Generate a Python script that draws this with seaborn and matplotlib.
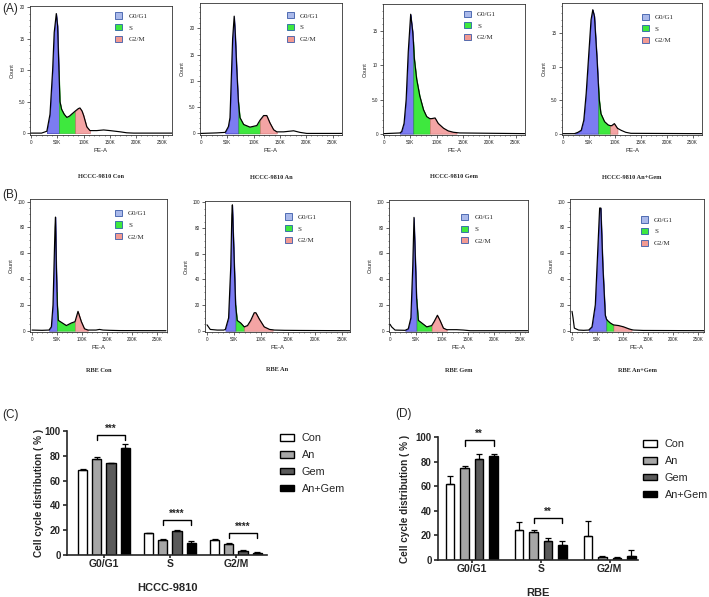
import numpy as np
import pandas as pd
import matplotlib
matplotlib.use("Agg")
import matplotlib.pyplot as plt
from matplotlib.patches import Patch
from matplotlib.ticker import MultipleLocator, FixedLocator, FuncFormatter
import seaborn as sns

# ---------------- bar chart data ----------------
phases = ["G0/G1", "S", "G2/M"]
groups = ["Con", "An", "Gem", "An+Gem"]

hccc_con = [68.4, 17.4, 12.2]
hccc_an = [77.5, 11.8, 8.6]
hccc_gem = [74.0, 19.6, 3.4]
hccc_angem = [86.6, 9.4, 1.8]
hccc_con_sd = [0.7, 0.4, 0.5]
hccc_an_sd = [1.3, 1.0, 1.0]
hccc_gem_sd = [0.5, 0.7, 0.4]
hccc_angem_sd = [2.8, 1.8, 0.7]

rbe_con = [61.6, 24.6, 19.2]
rbe_an = [74.4, 22.6, 2.4]
rbe_gem = [82.5, 15.1, 1.3]
rbe_angem = [84.4, 11.8, 3.4]
rbe_con_sd = [6.6, 5.9, 12.7]
rbe_an_sd = [1.9, 1.5, 0.6]
rbe_gem_sd = [3.3, 3.0, 0.8]
rbe_angem_sd = [1.4, 3.6, 4.7]

# significance brackets: (phase index, from group, to group, y, drop, label)
hccc_sig = [(0, 1, 3, 97, 4, "***"), (1, 1, 3, 28, 4, "****"), (2, 1, 3, 17.5, 3.5, "****")]
rbe_sig = [(0, 1, 3, 97.3, 5, "**"), (1, 1, 3, 34.3, 4, "**")]

# ---------------- flow cytometry histogram data (PE-A in K, count) ----------------
hc_con_x = [0, 20, 30, 36, 41, 44, 48, 50.5, 53, 55, 58, 63, 68, 73, 77, 84, 90, 93, 97, 100, 106, 112, 125, 138, 150, 170, 182, 195, 268]
hc_con_y = [0, 0, 0.3, 3, 10, 16, 19, 17, 10, 5, 3.8, 3.0, 2.5, 2.7, 3.0, 3.5, 3.9, 4.0, 3.5, 2.8, 1.0, 0.4, 0.4, 0.5, 0.4, 0.2, 0.05, 0, 0]
hc_an_x = [0, 30, 46, 52, 55, 58, 60, 63, 65, 68, 71, 74, 81, 93, 106, 112, 119, 125, 131, 138, 144, 157, 176, 188, 201, 268]
hc_an_y = [0, 0.1, 0.2, 1.3, 3, 12, 18, 22.3, 19, 12, 6, 3, 1.7, 1.2, 1.5, 2.5, 3.4, 3.4, 2.0, 0.7, 0.3, 0.3, 0.5, 0.2, 0, 0]
hc_gem_x = [0, 30, 33.5, 38, 42, 46, 50.6, 54.4, 55.7, 57.6, 62, 68, 75, 81, 87, 90.5, 97, 103, 113, 122, 132, 138, 144, 268]
hc_gem_y = [0, 0.1, 0.3, 1.5, 5, 12, 17.5, 15, 13.5, 11, 8, 5.5, 3.5, 2.5, 2.2, 2.2, 2.3, 1.5, 0.8, 0.4, 0.2, 0.15, 0.1, 0]
hc_angem_x = [0, 22, 28.7, 35, 40, 44.6, 49.7, 54, 57.4, 60.6, 65.7, 68, 70, 73, 80, 87, 91, 94, 99, 105, 112, 121, 131, 268]
hc_angem_y = [0, 0, 0.2, 0.5, 2, 6, 12, 17, 18.5, 17.5, 11, 7.5, 5, 3, 1.8, 1.3, 1.2, 1.2, 1.5, 0.8, 0.5, 0.2, 0.05, 0]

rb_con_x = [0, 20, 34, 38.7, 42, 46, 47, 48.7, 50, 50.7, 52.7, 58.7, 68.7, 78.7, 86, 92, 98.7, 105, 112, 128, 135, 142, 155, 175, 268]
rb_con_y = [0.5, 0.3, 0.5, 3, 20, 80, 88, 50, 30, 20, 8, 6.5, 4, 6, 7, 15, 7, 1.5, 0.5, 0.5, 1, 0.5, 0.3, 0.1, 0]
rb_an_x = [0, 6, 19, 31, 34, 40, 44, 46, 47, 50, 53, 56, 62.5, 69, 75, 81, 87.5, 90.6, 97, 106, 116, 122, 125, 144, 175, 268]
rb_an_y = [4.6, 1, 0.5, 0.5, 1, 10, 50, 90, 98, 60, 20, 8, 6, 3, 4, 8, 14, 14, 9, 3, 1, 0.7, 0.5, 0.3, 0.2, 0]
rb_gem_x = [0, 3, 9.6, 29, 35, 40, 43.6, 46, 48.7, 51, 54.5, 61, 70.5, 80, 84.6, 91, 96, 102.5, 109, 128, 141, 154, 268]
rb_gem_y = [5, 3, 0.5, 0.3, 1.5, 10, 50, 88, 55, 25, 8, 6, 3, 4, 7, 12, 8, 2, 0.8, 0.8, 0.5, 0, 0]
rb_angem_x = [0, 2, 4.6, 13, 23, 33, 39.5, 46, 50.6, 54.6, 57, 61, 65.8, 68, 70, 75.6, 82, 92, 102, 112, 118, 122, 141, 268]
rb_angem_y = [15, 10, 2, 0.5, 0.3, 0.5, 3, 20, 60, 95, 95, 50, 12, 9, 8, 6, 4.5, 4, 3, 1.5, 0.8, 0.5, 0.2, 0]

# phase gates (start G0/G1, G0/G1|S, S|G2/M, end G2/M) in K
hc_con_gates = [30, 53, 84, 112]
hc_an_gates = [46, 71, 112, 144]
hc_gem_gates = [30, 55.7, 87, 138]
hc_angem_gates = [22, 68, 91, 105]
rb_con_gates = [34, 50, 86, 112]
rb_an_gates = [34, 53, 69, 122]
rb_gem_gates = [29, 51, 80, 109]
rb_angem_gates = [33, 68, 82, 118]

titles_A = ["HCCC-9810 Con", "HCCC-9810 An", "HCCC-9810 Gem", "HCCC-9810 An+Gem"]
titles_B = ["RBE Con", "RBE An", "RBE Gem", "RBE An+Gem"]
phase_labels = ["G0/G1", "S", "G2/M"]

# ---------------- styling ----------------
sns.set_style("ticks")
plt.rcParams['font.family'] = ['Liberation Sans', 'DejaVu Sans']
SERIF = ['Liberation Serif', 'DejaVu Serif']

W, H = 709, 597
fig = plt.figure(figsize=(W / 100, H / 100), dpi=100)


def rect(l, t, r, b):
    return [l / W, 1 - b / H, (r - l) / W, (b - t) / H]


fill_cols = ["#7c7cf2", "#3ee83e", "#f4a4a4"]
fill_edges = ["#1c1ca8", "#22b022", "#d06a6a"]
leg_faces = ["#aab9ea", "#3ee83e", "#f29a92"]
leg_edges = ["#3a5aa8", "#2a5fa8", "#3a5aa8"]


def kfmt(v, pos):
    return "0" if abs(v) < 1e-6 else f"{int(round(v))}K"


def hist_panel(box, xs, ys, gates, xlim, ylim, title, ymajor, ylabels, yminor, leg_anchor, title_y):
    ax = fig.add_axes(rect(*box))
    x = np.array(xs, dtype=float)
    y = np.array(ys, dtype=float)
    g0, g1, g2, g3 = gates
    masks = [(x >= g0) & (x <= g1), (x >= g1) & (x <= g2), (x >= g2) & (x <= g3)]
    for m, c, e in zip(masks, fill_cols, fill_edges):
        ax.fill_between(x, 0, y, where=m, color=c, edgecolor=e, linewidth=0.4, zorder=2)
    sns.lineplot(x=x, y=y, ax=ax, color="black", linewidth=0.85, zorder=3, sort=False,
                 estimator=None)
    ax.set_xlim(*xlim)
    ax.set_ylim(*ylim)
    ax.xaxis.set_major_locator(FixedLocator([0, 50, 100, 150, 200, 250]))
    ax.xaxis.set_major_formatter(FuncFormatter(kfmt))
    ax.xaxis.set_minor_locator(MultipleLocator(10))
    ax.yaxis.set_major_locator(FixedLocator(ymajor))
    ax.set_yticklabels(ylabels)
    ax.yaxis.set_minor_locator(MultipleLocator(yminor))
    ax.tick_params(which="major", length=2, width=0.5, labelsize=3.3, pad=1.5, colors="#222222")
    ax.tick_params(which="minor", length=1, width=0.4)
    for s in ax.spines.values():
        s.set_linewidth(0.6)
        s.set_color("#333333")
    ax.set_xlabel("PE-A", fontsize=4.3, labelpad=2.5)
    ax.set_ylabel("Count", fontsize=4.0, labelpad=3)
    handles = [Patch(facecolor=fc, edgecolor=ec, linewidth=0.6) for fc, ec in zip(leg_faces, leg_edges)]
    leg = ax.legend(handles, phase_labels, loc="upper left", bbox_to_anchor=leg_anchor,
                    frameon=False, fontsize=5, handlelength=1.0, handleheight=1.0,
                    labelspacing=0.75, handletextpad=0.9, borderpad=0, borderaxespad=0)
    for t in leg.get_texts():
        t.set_family(SERIF)
    ax.text(0.5, title_y, title, transform=ax.transAxes, ha="center", va="center",
            fontsize=4.6, fontweight="bold", family=SERIF)
    return ax


A_boxes = [(30, 6, 172, 135), (200, 3, 342, 135), (383, 4, 525, 135), (562, 3, 702, 135)]
A_ylims = [(-0.3, 20.2), (-0.3, 24.8), (-0.2, 19.0), (-0.2, 19.5)]
A_leg = [(0.60, 0.95), (0.61, 0.93), (0.57, 0.95), (0.57, 0.92)]
A_data = [(hc_con_x, hc_con_y, hc_con_gates), (hc_an_x, hc_an_y, hc_an_gates),
          (hc_gem_x, hc_gem_y, hc_gem_gates), (hc_angem_x, hc_angem_y, hc_angem_gates)]
for box, yl, la, (xs, ys, gt), ttl in zip(A_boxes, A_ylims, A_leg, A_data, titles_A):
    hist_panel(box, xs, ys, gt, (-2, 268), yl, ttl, [0, 5, 10, 15, 20],
               ["0", "5.0", "10", "15", "20"], 1, la, -0.32)

B_boxes = [(30, 199, 167, 332), (205, 201, 350, 332), (389, 200, 528, 332), (570, 199, 704, 332)]
B_ylims = [(-1, 102), (-1, 101), (-1, 101.5), (-1, 102)]
B_xlims = [(-4, 270), (-3.7, 265), (-2, 265), (-4, 261)]
B_leg = [(0.62, 0.92), (0.55, 0.905), (0.52, 0.895), (0.53, 0.87)]
B_data = [(rb_con_x, rb_con_y, rb_con_gates), (rb_an_x, rb_an_y, rb_an_gates),
          (rb_gem_x, rb_gem_y, rb_gem_gates), (rb_angem_x, rb_angem_y, rb_angem_gates)]
for box, yl, xl, la, (xs, ys, gt), ttl in zip(B_boxes, B_ylims, B_xlims, B_leg, B_data, titles_B):
    hist_panel(box, xs, ys, gt, xl, yl, ttl, [0, 20, 40, 60, 80, 100],
               ["0", "20", "40", "60", "80", "100"], 5, la, -0.29)

# ---------------- bar panels ----------------
bar_colors = ["#ffffff", "#a6a6a6", "#5a5a5a", "#000000"]


def bar_panel(box, means, sds, sig, xlabel, xlim, width, gap, ylab_x, xlab_y, leg_anchor):
    ax = fig.add_axes(rect(*box))
    rows = []
    for g, vals in zip(groups, means):
        for p, v in zip(phases, vals):
            rows.append({"phase": p, "group": g, "value": v})
    df = pd.DataFrame(rows)
    sns.barplot(data=df, x="phase", y="value", hue="group", order=phases, hue_order=groups,
                palette=dict(zip(groups, bar_colors)), edgecolor="black", linewidth=1.0,
                width=width, gap=gap, errorbar=None, ax=ax, legend=True, saturation=1)
    conts = list(ax.containers)
    for cont, sd in zip(conts, sds):
        for bar, e in zip(cont, sd):
            cx = bar.get_x() + bar.get_width() / 2
            ax.errorbar([cx], [bar.get_height()], yerr=[[0], [e]], fmt="none", ecolor="black",
                        elinewidth=0.9, capsize=2.2, capthick=0.9, zorder=1)
    for pi, i0, i1, yv, drop, lab in sig:
        b0 = conts[i0][pi]
        b1 = conts[i1][pi]
        x0 = b0.get_x() + b0.get_width() / 2
        x1 = b1.get_x() + b1.get_width() / 2
        ax.plot([x0, x0, x1, x1], [yv - drop, yv, yv, yv - drop], color="black", lw=1.0,
                clip_on=False)
        ax.text((x0 + x1) / 2, yv + 0.8, lab, ha="center", va="bottom", fontsize=7,
                fontweight="bold")
    ax.set_xlim(*xlim)
    ax.set_ylim(0, 100)
    ax.set_yticks([0, 20, 40, 60, 80, 100])
    sns.despine(ax=ax)
    for s in ("left", "bottom"):
        ax.spines[s].set_linewidth(1.2)
    ax.tick_params(axis="y", length=3, width=1.2, labelsize=7, pad=1.5)
    ax.tick_params(axis="x", length=2, width=1.2, labelsize=7.5, pad=1)
    for t in ax.get_xticklabels() + ax.get_yticklabels():
        t.set_fontweight("bold")
    ax.set_xlabel(xlabel, fontsize=8, fontweight="bold")
    ax.xaxis.set_label_coords(0.5, xlab_y)
    ax.set_ylabel("Cell cycle distribution ( % )", fontsize=7.2, fontweight="bold")
    ax.yaxis.set_label_coords(ylab_x, 0.5)
    sns.move_legend(ax, "upper left", bbox_to_anchor=leg_anchor, frameon=False, title=None,
                    fontsize=7.8, handlelength=1.3, handleheight=0.55, labelspacing=0.62,
                    handletextpad=0.7, borderpad=0, borderaxespad=0)
    return ax


bar_panel((67, 431, 267, 555), [hccc_con, hccc_an, hccc_gem, hccc_angem],
          [hccc_con_sd, hccc_an_sd, hccc_gem_sd, hccc_angem_sd], hccc_sig, "HCCC-9810",
          (-0.56, 2.47), 0.865, 0.35, -0.115, -0.226, (1.065, 0.98))
bar_panel((438, 437, 638, 560), [rbe_con, rbe_an, rbe_gem, rbe_angem],
          [rbe_con_sd, rbe_an_sd, rbe_gem_sd, rbe_angem_sd], rbe_sig, "RBE",
          (-0.49, 2.41), 0.84, 0.43, -0.14, -0.228, (1.025, 0.98))

# panel letters
for lab, px, py in [("(A)", 2, 9), ("(B)", 2, 195), ("(C)", 2, 415), ("(D)", 395, 414)]:
    fig.text(px / W, 1 - py / H, lab, fontsize=8.5, ha="left", va="center")

fig.savefig("out.png", dpi=100)
